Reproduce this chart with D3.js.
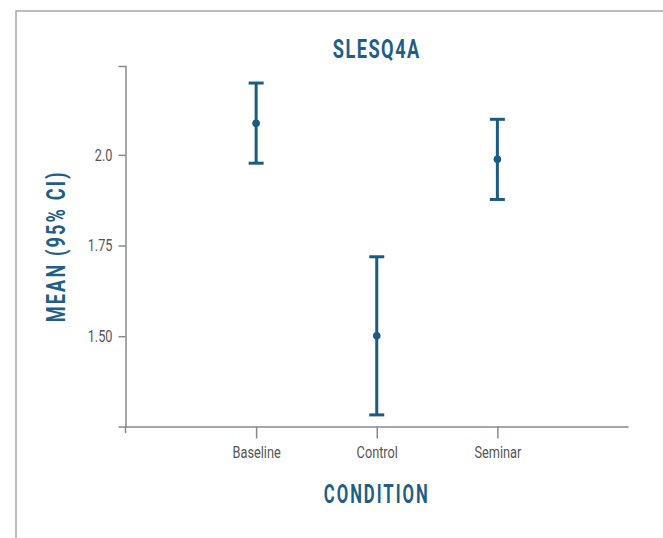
<!DOCTYPE html>
<html>
<head>
<meta charset="utf-8">
<script src="https://cdn.jsdelivr.net/npm/d3@7"></script>
<style>
  body { margin: 0; background: #fff; }
  svg { display: block; }
  .axis path, .axis line { stroke: #8a8a8a; stroke-width: 1.5; }
  .axis text { fill: #555; font-family: Roboto, "DejaVu Sans", sans-serif; font-size: 17px; }
  .label { fill: #1f5f87; font-family: Roboto, "DejaVu Sans", sans-serif; font-weight: bold; }
</style>
</head>
<body>
<svg id="chart"></svg>
<script>
"use strict";

var width = 663
  , height = 538;

var conditions = ["Baseline", "Control", "Seminar"];
var means = [2.087, 1.501, 1.988];
var lower = [1.977, 1.283, 1.877];
var upper = [2.198, 1.719, 2.098];
var yTicks = [1.5, 1.75, 2.0];
var yTickLabels = ["1.50", "1.75", "2.0"];

var data = conditions.map(function (c, i) {
  return { name: c, mean: means[i], lo: lower[i], hi: upper[i] };
});

var svg = d3.select("#chart")
  .attr("width", width)
  .attr("height", height);

// squeeze text horizontally, the original uses a condensed face
function condense(sel, k) {
  sel.each(function () {
    var len = this.getComputedTextLength();
    d3.select(this)
      .attr("textLength", len * k)
      .attr("lengthAdjust", "spacingAndGlyphs");
  });
}

// outer frame
svg.append("path")
  .attr("d", "M16," + height + "V11H" + width)
  .attr("fill", "none")
  .attr("stroke", "#a8a8a8")
  .attr("stroke-width", 1.5);

var plotLeft = 125.5, plotRight = 628, plotTop = 66, plotBottom = 426.5;

var x = d3.scalePoint()
  .domain(conditions)
  .range([plotLeft, plotRight])
  .padding(1.083);

var y = d3.scaleLinear()
  .domain([1.251, 2.245])
  .range([plotBottom, plotTop]);

var color = "#1b5b82";

// axes
var xAxisG = svg.append("g")
  .attr("class", "axis")
  .attr("transform", "translate(0," + plotBottom + ")")
  .call(d3.axisBottom(x).tickSize(12).tickSizeOuter(0).tickPadding(7));

var yAxisG = svg.append("g")
  .attr("class", "axis")
  .attr("transform", "translate(" + plotLeft + ",0)")
  .call(d3.axisLeft(y).tickValues(yTicks).tickFormat(function (d, i) { return yTickLabels[i]; })
    .tickSize(7).tickSizeOuter(7).tickPadding(6));

condense(xAxisG.selectAll("text"), 0.75);
condense(yAxisG.selectAll("text"), 0.75);

// little extension of y axis below the x axis
svg.append("line")
  .attr("x1", plotLeft).attr("x2", plotLeft)
  .attr("y1", plotBottom).attr("y2", plotBottom + 6.5)
  .attr("stroke", "#8a8a8a")
  .attr("stroke-width", 1.5);

// error bars
var bars = svg.append("g").selectAll("g")
  .data(data)
  .enter()
  .append("g");

bars.append("line")
  .attr("x1", function (d) { return x(d.name); })
  .attr("x2", function (d) { return x(d.name); })
  .attr("y1", function (d) { return y(d.lo); })
  .attr("y2", function (d) { return y(d.hi); })
  .attr("stroke", color)
  .attr("stroke-width", 3);

bars.selectAll(".cap")
  .data(function (d) { return [d.lo, d.hi].map(function (v) { return { name: d.name, v: v }; }); })
  .enter()
  .append("line")
  .attr("class", "cap")
  .attr("x1", function (d) { return x(d.name) - 7.5; })
  .attr("x2", function (d) { return x(d.name) + 7.5; })
  .attr("y1", function (d) { return y(d.v); })
  .attr("y2", function (d) { return y(d.v); })
  .attr("stroke", color)
  .attr("stroke-width", 3);

bars.append("circle")
  .attr("cx", function (d) { return x(d.name); })
  .attr("cy", function (d) { return y(d.mean); })
  .attr("r", 3.8)
  .attr("fill", color);

// titles
svg.append("text")
  .attr("class", "label")
  .attr("x", (plotLeft + plotRight) / 2)
  .attr("y", 58)
  .attr("text-anchor", "middle")
  .style("font-size", "25px")
  .style("letter-spacing", "2px")
  .text("SLESQ4A")
  .attr("textLength", 88)
  .attr("lengthAdjust", "spacingAndGlyphs");

svg.append("text")
  .attr("class", "label")
  .attr("x", (plotLeft + plotRight) / 2)
  .attr("y", 503)
  .attr("text-anchor", "middle")
  .style("font-size", "25px")
  .style("letter-spacing", "3px")
  .text("CONDITION")
  .attr("textLength", 106)
  .attr("lengthAdjust", "spacingAndGlyphs");

svg.append("text")
  .attr("class", "label")
  .attr("transform", "translate(65," + ((plotTop + plotBottom) / 2) + ") rotate(-90)")
  .attr("text-anchor", "middle")
  .style("font-size", "25px")
  .style("letter-spacing", "3px")
  .text("MEAN (95% CI)")
  .attr("textLength", 152)
  .attr("lengthAdjust", "spacingAndGlyphs");
</script>
</body>
</html>
